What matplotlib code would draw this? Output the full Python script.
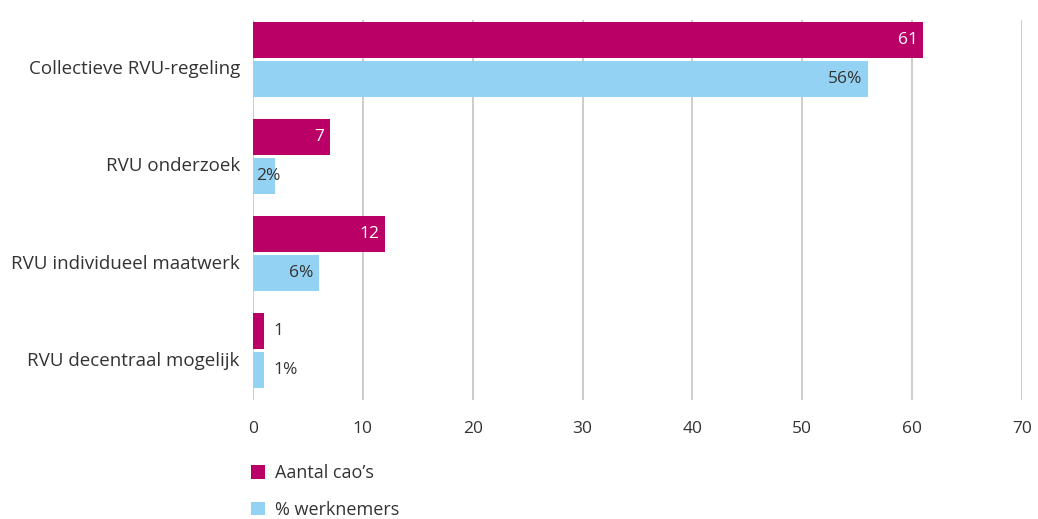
import matplotlib.pyplot as plt
import matplotlib.transforms as mtransforms
import numpy as np

categories = ["Collectieve RVU-regeling", "RVU onderzoek", "RVU individueel maatwerk", "RVU decentraal mogelijk"]
aantal_caos = [61, 7, 12, 1]
pct_werknemers = [56, 2, 6, 1]
series_labels = ["Aantal cao\u2019s", "% werknemers"]

MAGENTA = "#BA0066"
BLUE = "#94D2F4"
TEXT = "#333333"
GRID = "#CCCCCC"

plt.rcParams.update({"font.family": "Open Sans", "font.size": 12})

fig = plt.figure(figsize=(10.38, 5.19), dpi=100)
ax = fig.add_axes([253 / 1038, 1 - 400 / 519, (1022 - 253) / 1038, 380 / 519])

y = np.arange(len(categories))
h = 0.371
off = 0.201

b1 = ax.barh(y - off, aantal_caos, height=h, color=MAGENTA, zorder=3, label=series_labels[0])
b2 = ax.barh(y + off, pct_werknemers, height=h, color=BLUE, zorder=3, label=series_labels[1])


def label_bars(values, ypos, inside_color, suffix=""):
    for v, yy in zip(values, ypos):
        txt = f"{v}{suffix}"
        if v >= 4 or (v >= 2 and not suffix):
            ax.text(v - 0.5, yy, txt, ha="right", va="center", color=inside_color, fontsize=12.5, zorder=4)
        elif v >= 2:
            # too narrow for the label: start it at the bar base
            ax.text(0.3, yy, txt, ha="left", va="center", color=inside_color, fontsize=12.5, zorder=4)
        else:
            ax.text(v + 0.9, yy, txt, ha="left", va="center", color=TEXT, fontsize=12.5, zorder=4)


label_bars(aantal_caos, y - off, "white")
label_bars(pct_werknemers, y + off, TEXT, "%")

ax.set_xlim(0, 70)
ax.set_ylim(3.51, -0.407)
ax.set_xticks(range(0, 71, 10))
ax.set_yticks(y, categories)
ax.tick_params(length=0, colors=TEXT)
ax.tick_params(axis="x", pad=15, labelsize=12.5)
ax.tick_params(axis="y", pad=9.5, labelsize=13.5)
ax.grid(axis="x", color=GRID, lw=1.4, zorder=0)
for s in ax.spines.values():
    s.set_visible(False)

# category labels sit a little below the group centre in the original
shift = mtransforms.ScaledTranslation(0, -8 / 100, fig.dpi_scale_trans)
for lbl in ax.get_yticklabels():
    lbl.set_transform(lbl.get_transform() + shift)

fig.legend(
    handles=[b1, b2],
    loc="upper left",
    bbox_to_anchor=(244 / 1038, 1 - 457 / 519),
    frameon=False,
    handlelength=0.75,
    handleheight=0.75,
    handletextpad=0.55,
    labelspacing=1.05,
    fontsize=13,
    labelcolor=TEXT,
    borderaxespad=0,
)

fig.savefig("out.png", dpi=100)
